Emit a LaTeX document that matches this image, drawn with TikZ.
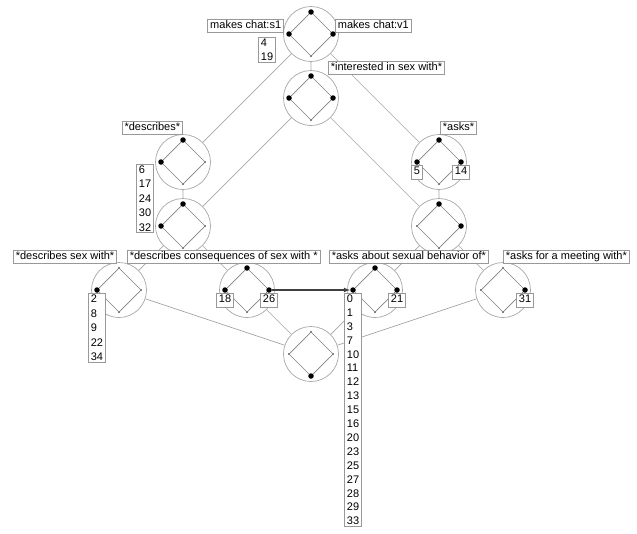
\documentclass[tikz,border=0pt]{standalone}
\usepackage{fontspec}
\setmainfont{Liberation Sans}
\usetikzlibrary{positioning}

\begin{document}
\begin{tikzpicture}[
  x=1pt, y=1pt,
  every node/.style={font=\fontsize{11}{14.4}\selectfont},
  outer/.style={circle, draw=black!35, line width=0.7pt, minimum size=55pt, inner sep=0pt},
  big/.style={circle, fill=black, minimum size=5.5pt, inner sep=0pt},
  small/.style={circle, fill=black, minimum size=1.8pt, inner sep=0pt},
  link/.style={draw=black!35, line width=0.7pt},
  inner/.style={draw=black!50, line width=0.7pt},
  box/.style={draw=black!40, fill=white, line width=0.7pt, inner xsep=2.5pt, inner ysep=1.5pt},
  attr/.style={box, text depth=2.5pt},
  objs/.style={box, align=left},
  arrow/.style={-latex, draw=black!75, line width=1.1pt}
]
\clip (0,0) rectangle (637,-533);

% outer circles, each with its own small diamond
\foreach \n/\x/\y/\t/\l/\r/\b in {
    A/311/34/big/big/big/small, B/311/98/big/big/big/small,
    C/183/162/big/big/small/small, D/183/226/big/big/small/small,
    E/439/162/big/big/big/small, F/439/226/big/small/big/small,
    G/119/290/small/big/small/small, H/247/290/big/big/big/small,
    I/375/290/big/big/big/small, J/503/290/small/small/big/small,
    K/311/354/small/small/small/big} {
  \node[outer] (\n) at (\x,-\y) {};
  \node[\t] (\n-t) at (\x,-\y+22) {};
  \node[\l] (\n-l) at (\x-22,-\y) {};
  \node[\r] (\n-r) at (\x+22,-\y) {};
  \node[\b] (\n-b) at (\x,-\y-22) {};
  \draw[inner] (\n-t) -- (\n-l) -- (\n-b) -- (\n-r) -- (\n-t);
}

\draw[link] (A) -- (B) (A) -- (C) (A) -- (E)
  (B) -- (D) (B) -- (F) (C) -- (D) (E) -- (F)
  (D) -- (G) (D) -- (H) (F) -- (I) (F) -- (J)
  (G) -- (K) (H) -- (K) (I) -- (K) (J) -- (K);

% attribute labels
\node[attr, anchor=south east] (s1) at (284,-33) {makes chat:s1};
\node[attr, anchor=south west] (v1) at (335,-33) {makes chat:v1};
\node[attr, anchor=north west] (interested) at (328,-61) {*interested in sex with*};
\node[attr, anchor=south east] (describes) at (183,-135) {*describes*};
\node[attr, anchor=south west] (asks) at (440,-135) {*asks*};
\node[attr, anchor=north west] (sexwith) at (13,-250) {*describes sex with*};
\node[attr, anchor=north west] (consequences) at (127,-250) {*describes consequences of sex with *};
\node[attr, anchor=north west] (behavior) at (329,-250) {*asks about sexual behavior of*};
\node[attr, anchor=north west] (meeting) at (503,-250) {*asks for a meeting with*};

% object labels
\node[objs, anchor=north east] (objA) at (276,-37) {4\\19};
\node[objs, anchor=north east] (objC) at (154,-164) {6\\17\\24\\30\\32};
\node[attr, below=0.5pt of E-l] (objEl) {5};
\node[attr, below=0.5pt of E-r] (objEr) {14};
\node[objs, below=0.5pt of G-l] (objG) {2\\8\\9\\22\\34};
\node[attr, below=0.5pt of H-l] (objHl) {18};
\node[attr, below=0.5pt of H-r] (objHr) {26};
\node[objs, below=0pt of I-l, font=\fontsize{11}{13.9}\selectfont] (objIl)
  {0\\1\\3\\7\\10\\11\\12\\13\\15\\16\\20\\23\\25\\27\\28\\29\\33};
\node[attr, below=0.5pt of I-r] (objIr) {21};
\node[attr, below=0.5pt of J-r] (objJr) {31};

\draw[arrow] (H-r) -- (I-l);

\end{tikzpicture}
\end{document}
